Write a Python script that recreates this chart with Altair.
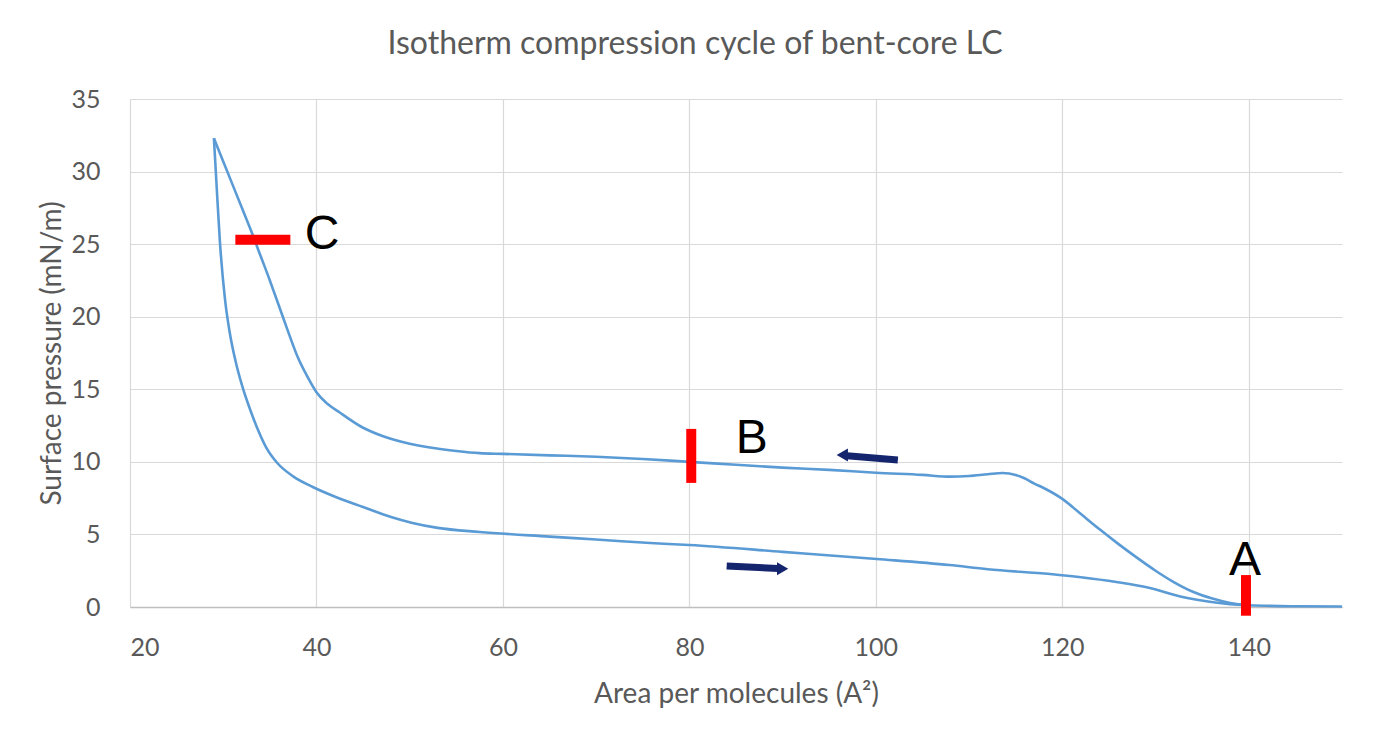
import altair as alt
import pandas as pd

# Compression branch (upper curve)
area_compress = [150, 145, 140, 138, 136, 134, 132, 130, 128, 126, 124, 122, 120, 118, 117, 116,
                 115, 113.6, 112, 110, 108, 105, 100, 95, 90, 85, 80, 75, 70, 65, 60, 57.5, 55, 52, 50, 47,
                 45, 42.5, 41, 40, 39, 38, 37, 36, 35, 34, 33, 32, 31, 30, 29.0]
pressure_compress = [0.03, 0.05, 0.12, 0.28, 0.6, 1.05, 1.7, 2.5, 3.4, 4.35, 5.35, 6.4, 7.45, 8.2, 8.5, 8.85,
                     9.1, 9.23, 9.15, 9.03, 8.98, 9.1, 9.25, 9.45, 9.6, 9.8, 10.0, 10.2, 10.35, 10.45, 10.55, 10.6, 10.75, 11.0, 11.25, 11.8,
                     12.35, 13.4, 14.1, 14.8, 15.9, 17.2, 18.9, 20.7, 22.5, 24.2, 25.9, 27.5, 29.1, 30.7, 32.3]

# Expansion branch (lower curve)
area_expand = [29.0, 29.3, 29.65, 30.2, 30.7, 31.3, 32, 33, 33.6, 34.6, 35.8, 37.5, 39.6, 42, 45, 48,
               50.3, 53, 57.5, 65, 70, 75.8, 80, 90, 100.1, 107.9, 112, 118.7, 122, 125.8, 129.4, 132.9, 136, 138, 140]
pressure_expand = [32.3, 28.9, 25.1, 21.15, 18.9, 17.0, 15.3, 13.4, 12.4, 11.0, 9.92, 9.0, 8.27, 7.6, 6.89, 6.2,
                   5.79, 5.45, 5.17, 4.85, 4.65, 4.41, 4.27, 3.8, 3.31, 2.89, 2.6, 2.27, 2.05, 1.72, 1.31, 0.69, 0.35, 0.2, 0.12]

# Red markers (A, B, C)
marker_labels = ["A", "B", "C"]
marker_x = [139.7, 80.2, 31.3]
marker_x2 = [139.7, 80.2, 37.2]
marker_y = [2.2, 12.27, 25.3]
marker_y2 = [-0.6, 8.55, 25.3]
label_x = [139.6, 86.7, 40.6]
label_y = [3.2, 11.6, 25.6]

# Direction arrows
arrow_tail_x = [102.36, 84.0]
arrow_tail_y = [10.13, 2.82]
arrow_head_x = [96.9, 89.5]
arrow_head_y = [10.42, 2.65]
arrow_tip_x = [96.4, 90.0]
arrow_tip_y = [10.47, 2.63]
arrow_shape = ["triangle-left", "triangle-right"]

curve = pd.concat([
    pd.DataFrame({"area": area_compress, "pressure": pressure_compress, "branch": "compression"}),
    pd.DataFrame({"area": area_expand, "pressure": pressure_expand, "branch": "expansion"}),
], ignore_index=True)

markers = pd.DataFrame({"label": marker_labels, "x": marker_x, "x2": marker_x2,
                        "y": marker_y, "y2": marker_y2, "lx": label_x, "ly": label_y})
arrows = pd.DataFrame({"tx": arrow_tail_x, "ty": arrow_tail_y, "hx": arrow_head_x,
                       "hy": arrow_head_y, "px": arrow_tip_x, "py": arrow_tip_y,
                       "shape": arrow_shape})

FONT = "Lato"
GREY = "#595959"

xscale = alt.Scale(domain=[20, 150], nice=False, zero=False)
yscale = alt.Scale(domain=[0, 35], nice=False)

line = alt.Chart(curve).mark_line(color="#5b9bd5", strokeWidth=2.6, clip=False,
                                  interpolate="monotone").encode(
    x=alt.X("area:Q", scale=xscale, sort="ascending",
            axis=alt.Axis(values=[20, 40, 60, 80, 100, 120, 140], title="Area per molecules (A²)",
                          labelFont=FONT, labelFontSize=25, labelColor=GREY, labelPadding=28,
                          titleFont=FONT, titleFontSize=28, titleColor=GREY, titleFontWeight="normal",
                          titlePadding=20, tickSize=0, domainColor="#bfbfbf", domainWidth=1.3,
                          gridColor="#d9d9d9", gridWidth=1.2)),
    y=alt.Y("pressure:Q", scale=yscale,
            axis=alt.Axis(values=[0, 5, 10, 15, 20, 25, 30, 35], title="Surface pressure (mN/m)",
                          labelFont=FONT, labelFontSize=25, labelColor=GREY, labelPadding=30,
                          titleFont=FONT, titleFontSize=28, titleColor=GREY, titleFontWeight="normal",
                          titlePadding=4, tickSize=0, domain=False,
                          gridColor="#d9d9d9", gridWidth=1.2)),
    detail="branch:N",
    order=alt.Order("area:Q"),
)

red = alt.Chart(markers).mark_rule(color="#ff0000", strokeWidth=10, strokeCap="butt", clip=False).encode(
    x=alt.X("x:Q", scale=xscale), x2="x2:Q",
    y=alt.Y("y:Q", scale=yscale), y2="y2:Q",
)

letters = alt.Chart(markers).mark_text(font="Liberation Sans", fontSize=48, color="black",
                                       align="center", baseline="middle", clip=False).encode(
    x=alt.X("lx:Q", scale=xscale), y=alt.Y("ly:Q", scale=yscale), text="label:N",
)

shafts = alt.Chart(arrows).mark_rule(color="#14256e", strokeWidth=7, strokeCap="butt").encode(
    x=alt.X("tx:Q", scale=xscale), x2="hx:Q",
    y=alt.Y("ty:Q", scale=yscale), y2="hy:Q",
)

heads = alt.Chart(arrows).mark_point(filled=True, color="#14256e", opacity=1, size=170).encode(
    x=alt.X("px:Q", scale=xscale), y=alt.Y("py:Q", scale=yscale),
    shape=alt.Shape("shape:N", scale=None),
)

chart = alt.layer(line, red, letters, shafts, heads).properties(
    width=1212, height=508,
    title=alt.TitleParams("Isotherm compression cycle of bent-core LC", font=FONT, fontSize=32,
                          fontWeight="normal", color=GREY, anchor="middle", offset=26, dx=-41),
    autosize=alt.AutoSizeParams(type="none"),
    padding={"left": 122, "top": 91, "right": 20, "bottom": 110},
).configure_view(stroke=None)

chart.save("out.html", embed_options={"renderer": "svg", "actions": False})
